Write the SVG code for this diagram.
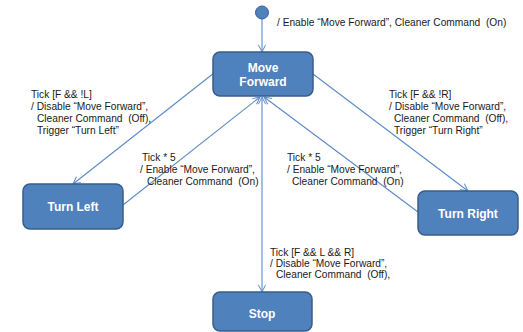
<svg xmlns="http://www.w3.org/2000/svg" width="523" height="332" viewBox="0 0 523 332">
<defs>
<style>
.node rect{fill:#4f81bd;stroke:#385d8a;stroke-width:1.5}
.nt{font-family:"Liberation Sans",Arial,sans-serif;font-weight:bold;font-size:12px;fill:#fff;text-anchor:middle}
.lb{font-family:"Liberation Sans",Arial,sans-serif;font-size:10.2px;fill:#1a1a1a;white-space:pre}
.edge{stroke:#5b8ac6;stroke-width:1.1;fill:none;marker-end:url(#arr)}
</style>
<marker id="arr" viewBox="0 0 10 10" refX="9" refY="5" markerWidth="9" markerHeight="9" orient="auto-start-reverse" markerUnits="userSpaceOnUse">
<path d="M1,1 L9,5 L1,9" fill="none" stroke="#5b8ac6" stroke-width="1.1"/>
</marker>
</defs>
<rect width="523" height="332" fill="#fff"/>
<g id="connectors">
<line class="edge" x1="262" y1="19" x2="262" y2="52"/>
<line class="edge" x1="214" y1="73" x2="73" y2="184"/>
<line class="edge" x1="123" y1="205" x2="260" y2="97"/>
<line class="edge" x1="313" y1="74" x2="468" y2="191"/>
<line class="edge" x1="418" y1="212" x2="264" y2="97"/>
<line class="edge" x1="262" y1="97" x2="262" y2="292" marker-start="url(#arr)"/>
</g>
<g id="initial"><circle cx="262" cy="12.5" r="6.5" fill="#4f81bd" stroke="#385d8a" stroke-width="1"/></g>
<g id="move-forward" class="node"><rect x="213" y="52" width="100" height="44" rx="7"/><text class="nt" x="263" y="71.5">Move</text><text class="nt" x="263" y="85.5">Forward</text></g>
<g id="turn-left" class="node"><rect x="23" y="184" width="100" height="45" rx="7"/><text class="nt" x="73" y="210.5">Turn Left</text></g>
<g id="turn-right" class="node"><rect x="418" y="191" width="100" height="44" rx="7"/><text class="nt" x="468" y="217.5">Turn Right</text></g>
<g id="stop" class="node"><rect x="213" y="292" width="99" height="39" rx="7"/><text class="nt" x="262" y="317.5">Stop</text></g>
<g id="labels">
<text class="lb" x="277" y="25.5">/ Enable “Move Forward”, Cleaner Command  (On)</text>
<text class="lb" x="31" y="97.5">Tick [F &amp;&amp; !L]</text>
<text class="lb" x="31" y="109.5">/ Disable “Move Forward”,</text>
<text class="lb" x="37" y="121.5">Cleaner Command  (Off),</text>
<text class="lb" x="37" y="133.5">Trigger “Turn Left”</text>
<text class="lb" x="142" y="160.5">Tick * 5</text>
<text class="lb" x="140" y="172.5">/ Enable “Move Forward”,</text>
<text class="lb" x="147" y="185">Cleaner Command  (On)</text>
<text class="lb" x="389" y="97.5">Tick [F &amp;&amp; !R]</text>
<text class="lb" x="389" y="109.5">/ Disable “Move Forward”,</text>
<text class="lb" x="394" y="121.5">Cleaner Command  (Off),</text>
<text class="lb" x="394" y="133.5">Trigger “Turn Right”</text>
<text class="lb" x="287" y="160.5">Tick * 5</text>
<text class="lb" x="287" y="172.5">/ Enable “Move Forward”,</text>
<text class="lb" x="292" y="185">Cleaner Command  (On)</text>
<text class="lb" x="270" y="255.5">Tick [F &amp;&amp; L &amp;&amp; R]</text>
<text class="lb" x="270" y="266.5">/ Disable “Move Forward”,</text>
<text class="lb" x="276" y="277.5">Cleaner Command  (Off),</text>
</g>
</svg>
